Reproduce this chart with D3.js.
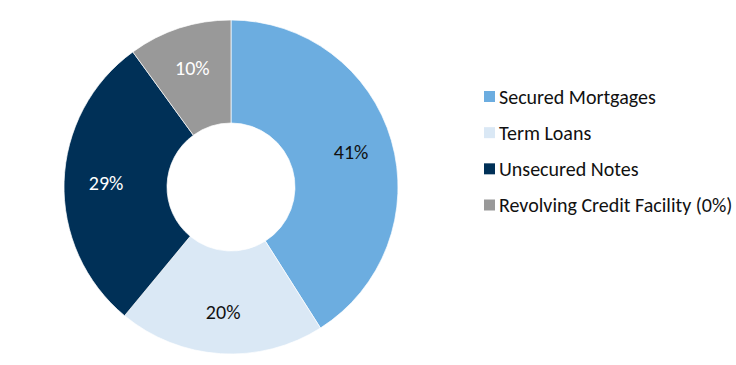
<!DOCTYPE html>
<html><head><meta charset="utf-8">
<script src="https://cdn.jsdelivr.net/npm/d3@7"></script>
<style>body{margin:0;background:#fff;} svg{display:block;font-family:Carlito,Calibri,"Liberation Sans",sans-serif;}</style>
</head><body>
<svg id="c" width="736" height="365"></svg>
<script>
const categories = ["Secured Mortgages","Term Loans","Unsecured Notes","Revolving Credit Facility (0%)"];
const values = [41, 20, 29, 10];
const labels = ["41%","20%","29%","10%"];
const colors = ["#6CADE0","#DAE8F5","#003057","#999999"];
const labelColors = ["#111","#111","#fff","#fff"];

const svg = d3.select("#c");
const cx = 231, cy = 187, R = 167, r = 64, rl = 125;
const pie = d3.pie().sort(null).value(d => d)(values);
const arc = d3.arc().innerRadius(r).outerRadius(R);
const lab = d3.arc().innerRadius(rl).outerRadius(rl);
const g = svg.append("g").attr("transform", `translate(${cx},${cy})`);
g.selectAll("path").data(pie).enter().append("path")
  .attr("d", arc).attr("fill", (d,i) => colors[i])
  .attr("stroke", "#fff").attr("stroke-width", 0.7);
g.selectAll("text").data(pie).enter().append("text")
  .attr("transform", d => `translate(${lab.centroid(d)})`)
  .attr("text-anchor","middle").attr("dominant-baseline","central")
  .attr("font-size", 20).attr("fill", (d,i) => labelColors[i])
  .text((d,i) => labels[i]);

const ly = d3.scalePoint().domain(categories).range([96.5, 205]);
const lg = svg.append("g");
const items = lg.selectAll("g").data(categories).enter().append("g")
  .attr("transform", d => `translate(484,${ly(d)})`);
items.append("rect").attr("x",0).attr("y",-5.5).attr("width",11).attr("height",11)
  .attr("fill", (d,i) => colors[i]);
items.append("text").attr("x",15).attr("y",0).attr("dominant-baseline","central")
  .attr("font-size",20).attr("fill","#111").text(d => d);
</script>
</body></html>
